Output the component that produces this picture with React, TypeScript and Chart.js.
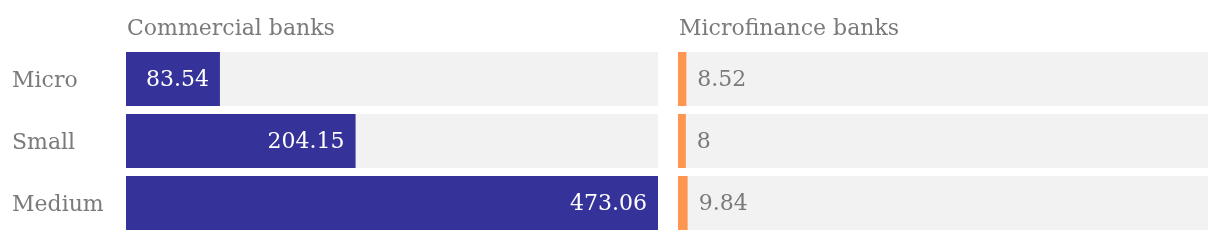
import React, { useEffect, useRef } from "react";
import { Chart, registerables } from "chart.js";

Chart.register(...registerables);

const categories = ["Micro", "Small", "Medium"];
const commercialValues = [83.54, 204.15, 473.06];
const microfinanceValues = [8.52, 8, 9.84];
const commercialTitle = "Commercial banks";
const microfinanceTitle = "Microfinance banks";
const commercialMax = 473.06;
const microfinanceMax = 540;

const FONT = "DejaVu Serif";
const GRAY_TEXT = "#7a7a7a";
const BLUE = "#35339a";
const ORANGE = "#ff9650";
const BG = "#f2f2f2";

function makeChart(
  canvas: HTMLCanvasElement,
  values: number[],
  max: number,
  color: string,
  title: string,
  showLabels: boolean,
  inside: boolean,
  padLeft: number,
  padRight: number
) {
  const labelPlugin = {
    id: "valueLabels",
    afterDatasetsDraw(chart: any) {
      const ctx = chart.ctx;
      const meta = chart.getDatasetMeta(0);
      ctx.save();
      ctx.font = `22px "${FONT}"`;
      ctx.textBaseline = "middle";
      meta.data.forEach((bar: any, i: number) => {
        const txt = String(values[i]);
        if (inside) {
          ctx.fillStyle = "#ffffff";
          ctx.textAlign = "right";
          ctx.fillText(txt, bar.x - 11, bar.y + 1.5);
        } else {
          ctx.fillStyle = GRAY_TEXT;
          ctx.textAlign = "left";
          ctx.fillText(txt, bar.x + 11, bar.y + 1.5);
        }
      });
      ctx.fillStyle = GRAY_TEXT;
      ctx.textAlign = "left";
      ctx.textBaseline = "alphabetic";
      ctx.fillText(title, chart.chartArea.left + 1, 35);
      ctx.restore();
    },
  };

  const yScale: any = {
    display: showLabels,
    grid: { display: false },
    border: { display: false },
    ticks: {
      crossAlign: "far",
      color: GRAY_TEXT,
      font: { family: FONT, size: 22 },
      padding: 0,
      labelOffset: 2,
    },
  };
  if (showLabels) {
    yScale.afterFit = (scale: any) => {
      scale.width = 114;
      scale.paddingTop = 0;
      scale.paddingBottom = 0;
    };
  }

  return new Chart(canvas, {
    type: "bar",
    data: {
      labels: categories,
      datasets: [
        {
          data: values,
          backgroundColor: color,
          borderWidth: 0,
          grouped: false,
          barPercentage: 1,
          categoryPercentage: 54 / 62,
        } as any,
        {
          data: categories.map(() => max),
          backgroundColor: BG,
          borderWidth: 0,
          grouped: false,
          barPercentage: 1,
          categoryPercentage: 54 / 62,
        } as any,
      ],
    },
    options: {
      indexAxis: "y",
      animation: false,
      responsive: false,
      maintainAspectRatio: false,
      devicePixelRatio: 1,
      layout: { autoPadding: false, padding: { left: padLeft, right: padRight, top: 48, bottom: 6 } },
      plugins: { legend: { display: false }, tooltip: { enabled: false }, title: { display: false } },
      scales: {
        x: { display: false, min: 0, max: max },
        y: yScale,
      },
    },
    plugins: [labelPlugin],
  } as any);
}

export default function App() {
  const leftRef = useRef<HTMLCanvasElement>(null);
  const rightRef = useRef<HTMLCanvasElement>(null);

  useEffect(() => {
    const a = makeChart(leftRef.current!, commercialValues, commercialMax, BLUE, commercialTitle, true, true, 12, 10);
    const b = makeChart(rightRef.current!, microfinanceValues, microfinanceMax, ORANGE, microfinanceTitle, false, false, 10, 12);
    return () => {
      a.destroy();
      b.destroy();
    };
  }, []);

  return (
    <div style={{ position: "fixed", left: 0, top: 0, width: 1220, height: 240, background: "#fff" }}>
      <canvas ref={leftRef} width={668} height={240} style={{ position: "absolute", left: 0, top: 0, width: 668, height: 240 }} />
      <canvas ref={rightRef} width={552} height={240} style={{ position: "absolute", left: 668, top: 0, width: 552, height: 240 }} />
    </div>
  );
}
